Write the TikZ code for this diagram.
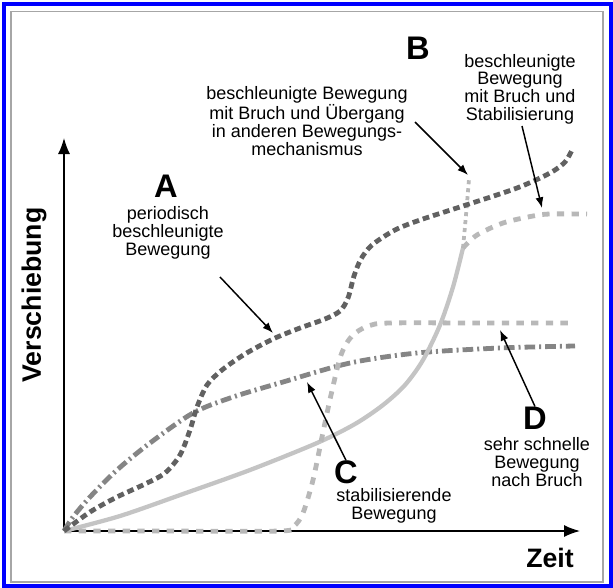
\documentclass[tikz,border=0pt]{standalone}
\usepackage{fontspec}
\setmainfont{Liberation Sans}
\usepackage{xcolor}
\usepackage{tikz}
\usetikzlibrary{arrows.meta}

\definecolor{darkline}{gray}{0.38}
\definecolor{midline}{gray}{0.52}
\definecolor{lightline}{gray}{0.72}
\definecolor{solidline}{gray}{0.77}

\tikzset{
	txt/.style={align=center, inner sep=0pt, font=\fontsize{13.5}{13.3}\selectfont},
	letter/.style={inner sep=0pt, font=\fontsize{24.5}{24.5}\selectfont\bfseries},
	axlabel/.style={inner sep=0pt, font=\fontsize{20}{20}\selectfont\bfseries},
	pointer/.style={line width=1.1pt, -{Latex[length=8pt,width=6pt]}},
	axis/.style={line width=1.1pt, -{Latex[length=12pt,width=9pt]}},
	periodic/.style={darkline, line width=3.6pt, dash pattern=on 5pt off 3pt},
	stabil/.style={midline, line width=3.6pt, dash pattern=on 8pt off 3pt on 1.5pt off 3pt},
	fast/.style={lightline, line width=3.6pt, dash pattern=on 5.5pt off 5.5pt},
	accel/.style={solidline, line width=3.2pt},
	transit/.style={lightline, line width=2.8pt, dash pattern=on 3pt off 3pt}
}

\begin{document}
\begin{tikzpicture}[x=0.75pt, y=-0.75pt]

	\useasboundingbox (0,0) rectangle (613,588);
	
	\fill [white] (0,0) rectangle (613,588);
	
	\draw [blue, line width=3pt] (4,4.5) rectangle (610.5,586);
	
	\draw [gray!70, line width=1.2pt] (11,11.5) rectangle (603,582);
	
	\coordinate (O) at (64,531);
	
	\coordinate (yend) at (64,138);
	
	\coordinate (xend) at (580,531);
	
	\draw [axis] (O) -- (yend);
	
	\draw [axis] (O) -- (xend);
	
	\node [axlabel, rotate=90] (ylab) at (34,295) {Verschiebung};
	
	\node [axlabel] (xlab) at (550,558) {Zeit};
	
	\draw [stabil] plot [smooth] coordinates {(64,531) (73,517) (90,497) (117,470) (150,443) (193,413) (233,397) (283,382) (350,363) (417,353) (500,348) (575,346)};
	
	\draw [accel] plot [smooth] coordinates {(64,531) (120,516) (183,494) (250,470) (317,443) (355,424) (383,405) (405,385) (423,360) (440,325) (453,287) (463,248)};
	
	\draw [transit] plot [smooth] coordinates {(463,248) (466,215) (469,179)};
	
	\draw [fast] plot [smooth] coordinates {(463,248) (477,235) (503,223) (533,216) (550,214) (587,214)};
	
	\draw [fast] plot [smooth] coordinates {(64,531) (150,531) (280,531) (294,526) (303,513) (313,480) (322,437) (331,395) (341,355) (352,336) (368,326) (390,323) (480,323) (570,323)};
	
	\draw [periodic] plot [smooth] coordinates {(64,531) (90,512) (117,497) (145,484) (165,473) (180,455) (190,430) (197,407) (207,385) (222,370) (245,354) (273,339) (300,328) (325,319) (340,311) (348,298) (354,276) (361,259) (372,245) (395,230) (420,220) (463,206) (517,188) (550,173) (565,162) (572,150)};
	
	\node [letter] (A) at (166,186) {A};
	
	\node [txt] (Atext) at (168,233) {periodisch\\beschleunigte\\Bewegung};
	
	\coordinate (Afrom) at (220,277);
	
	\coordinate (Ato) at (273,333);
	
	\draw [pointer] (Afrom) -- (Ato);
	
	\node [letter] (B) at (418,48) {B};
	
	\node [txt] (Btext) at (307,121) {beschleunigte Bewegung\\mit Bruch und Übergang\\in anderen Bewegungs-\\mechanismus};
	
	\coordinate (Bfrom) at (415,122);
	
	\coordinate (Bto) at (468,175);
	
	\draw [pointer] (Bfrom) -- (Bto);
	
	\node [txt] (Stext) at (520,89) {beschleunigte\\Bewegung\\mit Bruch und\\Stabilisierung};
	
	\coordinate (Sfrom) at (522,126);
	
	\coordinate (Sto) at (542,208);
	
	\draw [pointer] (Sfrom) -- (Sto);
	
	\node [letter] (C) at (346,472) {C};
	
	\node [txt] (Ctext) at (394,506) {stabilisierende\\Bewegung};
	
	\coordinate (Cto) at (307,382);
	
	\draw [pointer] (C.north) -- (Cto);
	
	\node [letter] (D) at (535,418) {D};
	
	\node [txt] (Dtext) at (537,462) {sehr schnelle\\Bewegung\\nach Bruch};
	
	\coordinate (Dto) at (500,330);
	
	\draw [pointer] (D.north) -- (Dto);
	
\end{tikzpicture}
\end{document}
